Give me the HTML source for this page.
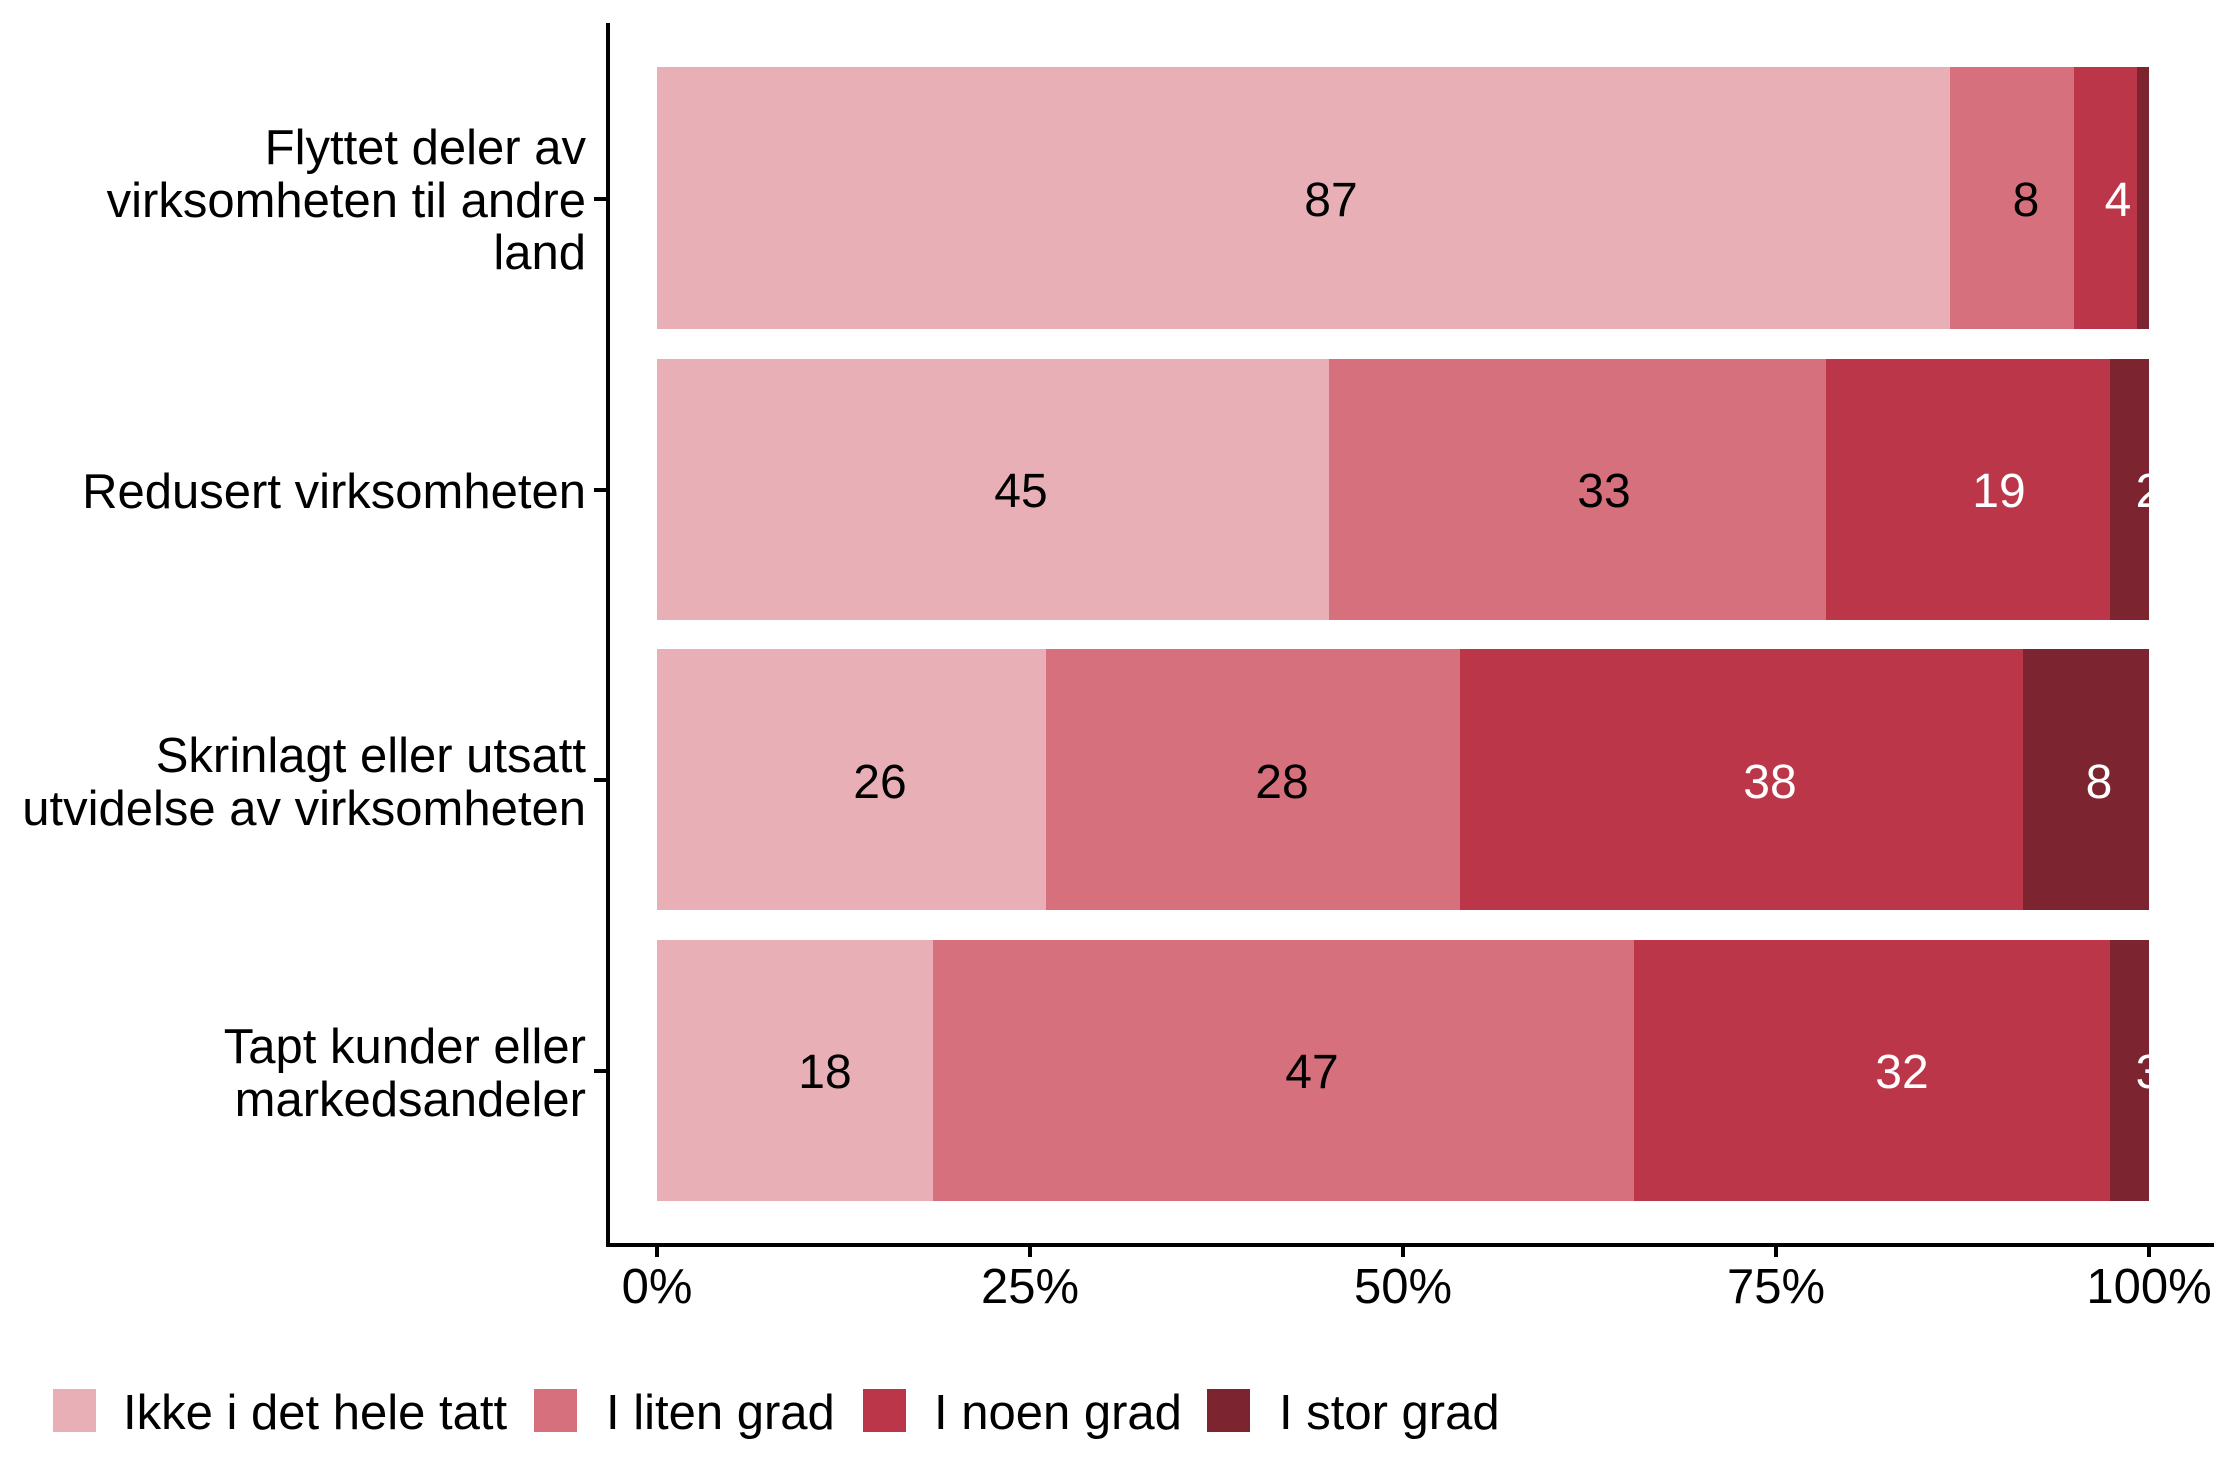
<!DOCTYPE html>
<html><head><meta charset="utf-8"><style>
html,body{margin:0;padding:0;background:#fff;}
svg{display:block;font-family:"Liberation Sans",Arial,sans-serif;}
</style></head><body>
<svg width="2240" height="1484" viewBox="0 0 2240 1484" xmlns="http://www.w3.org/2000/svg">
<defs><clipPath id="c"><rect x="657" y="0" width="1492" height="1484"/></clipPath></defs>
<g clip-path="url(#c)">
<rect x="657" y="67" width="1293" height="262" fill="#E8B0B6"/>
<rect x="1950" y="67" width="124" height="262" fill="#D6707C"/>
<rect x="2074" y="67" width="63" height="262" fill="#BC3649"/>
<rect x="2137" y="67" width="12" height="262" fill="#7C2430"/>
<rect x="657" y="359" width="672" height="261" fill="#E8B0B6"/>
<rect x="1329" y="359" width="497" height="261" fill="#D6707C"/>
<rect x="1826" y="359" width="284" height="261" fill="#BC3649"/>
<rect x="2110" y="359" width="39" height="261" fill="#7C2430"/>
<rect x="657" y="649" width="389" height="261" fill="#E8B0B6"/>
<rect x="1046" y="649" width="414" height="261" fill="#D6707C"/>
<rect x="1460" y="649" width="563" height="261" fill="#BC3649"/>
<rect x="2023" y="649" width="126" height="261" fill="#7C2430"/>
<rect x="657" y="940" width="276" height="261" fill="#E8B0B6"/>
<rect x="933" y="940" width="701" height="261" fill="#D6707C"/>
<rect x="1634" y="940" width="476" height="261" fill="#BC3649"/>
<rect x="2110" y="940" width="39" height="261" fill="#7C2430"/>
<g font-size="48" text-anchor="middle">
<text x="1331" y="216">87</text>
<text x="2026" y="216">8</text>
<text x="2118" y="216" fill="#fff">4</text>
<text x="1021" y="507">45</text>
<text x="1604" y="507">33</text>
<text x="1999" y="507" fill="#fff">19</text>
<text x="2149" y="507" fill="#fff">2</text>
<text x="880" y="798">26</text>
<text x="1282" y="798">28</text>
<text x="1770" y="798" fill="#fff">38</text>
<text x="2099" y="798" fill="#fff">8</text>
<text x="825" y="1088">18</text>
<text x="1312" y="1088">47</text>
<text x="1902" y="1088" fill="#fff">32</text>
<text x="2149" y="1088" fill="#fff">3</text>
</g>
</g>
<line x1="608" y1="23" x2="608" y2="1246" stroke="#000" stroke-width="4"/>
<line x1="606" y1="1245" x2="2214" y2="1245" stroke="#000" stroke-width="4"/>
<g stroke="#000" stroke-width="4">
<line x1="594" y1="199" x2="608" y2="199"/>
<line x1="594" y1="490" x2="608" y2="490"/>
<line x1="594" y1="780" x2="608" y2="780"/>
<line x1="594" y1="1071" x2="608" y2="1071"/>
<line x1="657" y1="1245" x2="657" y2="1257"/>
<line x1="1030" y1="1245" x2="1030" y2="1257"/>
<line x1="1403" y1="1245" x2="1403" y2="1257"/>
<line x1="1776" y1="1245" x2="1776" y2="1257"/>
<line x1="2149" y1="1245" x2="2149" y2="1257"/>
</g>
<g font-size="49" text-anchor="middle">
<text x="657" y="1303">0%</text>
<text x="1030" y="1303">25%</text>
<text x="1403" y="1303">50%</text>
<text x="1776" y="1303">75%</text>
<text x="2149" y="1303">100%</text>
</g>
<g font-size="49" text-anchor="end">
<text x="586" y="164">Flyttet deler av</text>
<text x="586" y="217">virksomheten til andre</text>
<text x="586" y="269">land</text>
<text x="586" y="508">Redusert virksomheten</text>
<text x="586" y="772">Skrinlagt eller utsatt</text>
<text x="586" y="825">utvidelse av virksomheten</text>
<text x="586" y="1063">Tapt kunder eller</text>
<text x="586" y="1116">markedsandeler</text>
</g>
<rect x="53" y="1389" width="43" height="43" fill="#E8B0B6"/>
<rect x="534" y="1389" width="43" height="43" fill="#D6707C"/>
<rect x="863" y="1389" width="43" height="43" fill="#BC3649"/>
<rect x="1207" y="1389" width="43" height="43" fill="#7C2430"/>
<g font-size="49">
<text x="123" y="1429">Ikke i det hele tatt</text>
<text x="606" y="1429">I liten grad</text>
<text x="934" y="1429">I noen grad</text>
<text x="1279" y="1429">I stor grad</text>
</g>
</svg>
</body></html>
